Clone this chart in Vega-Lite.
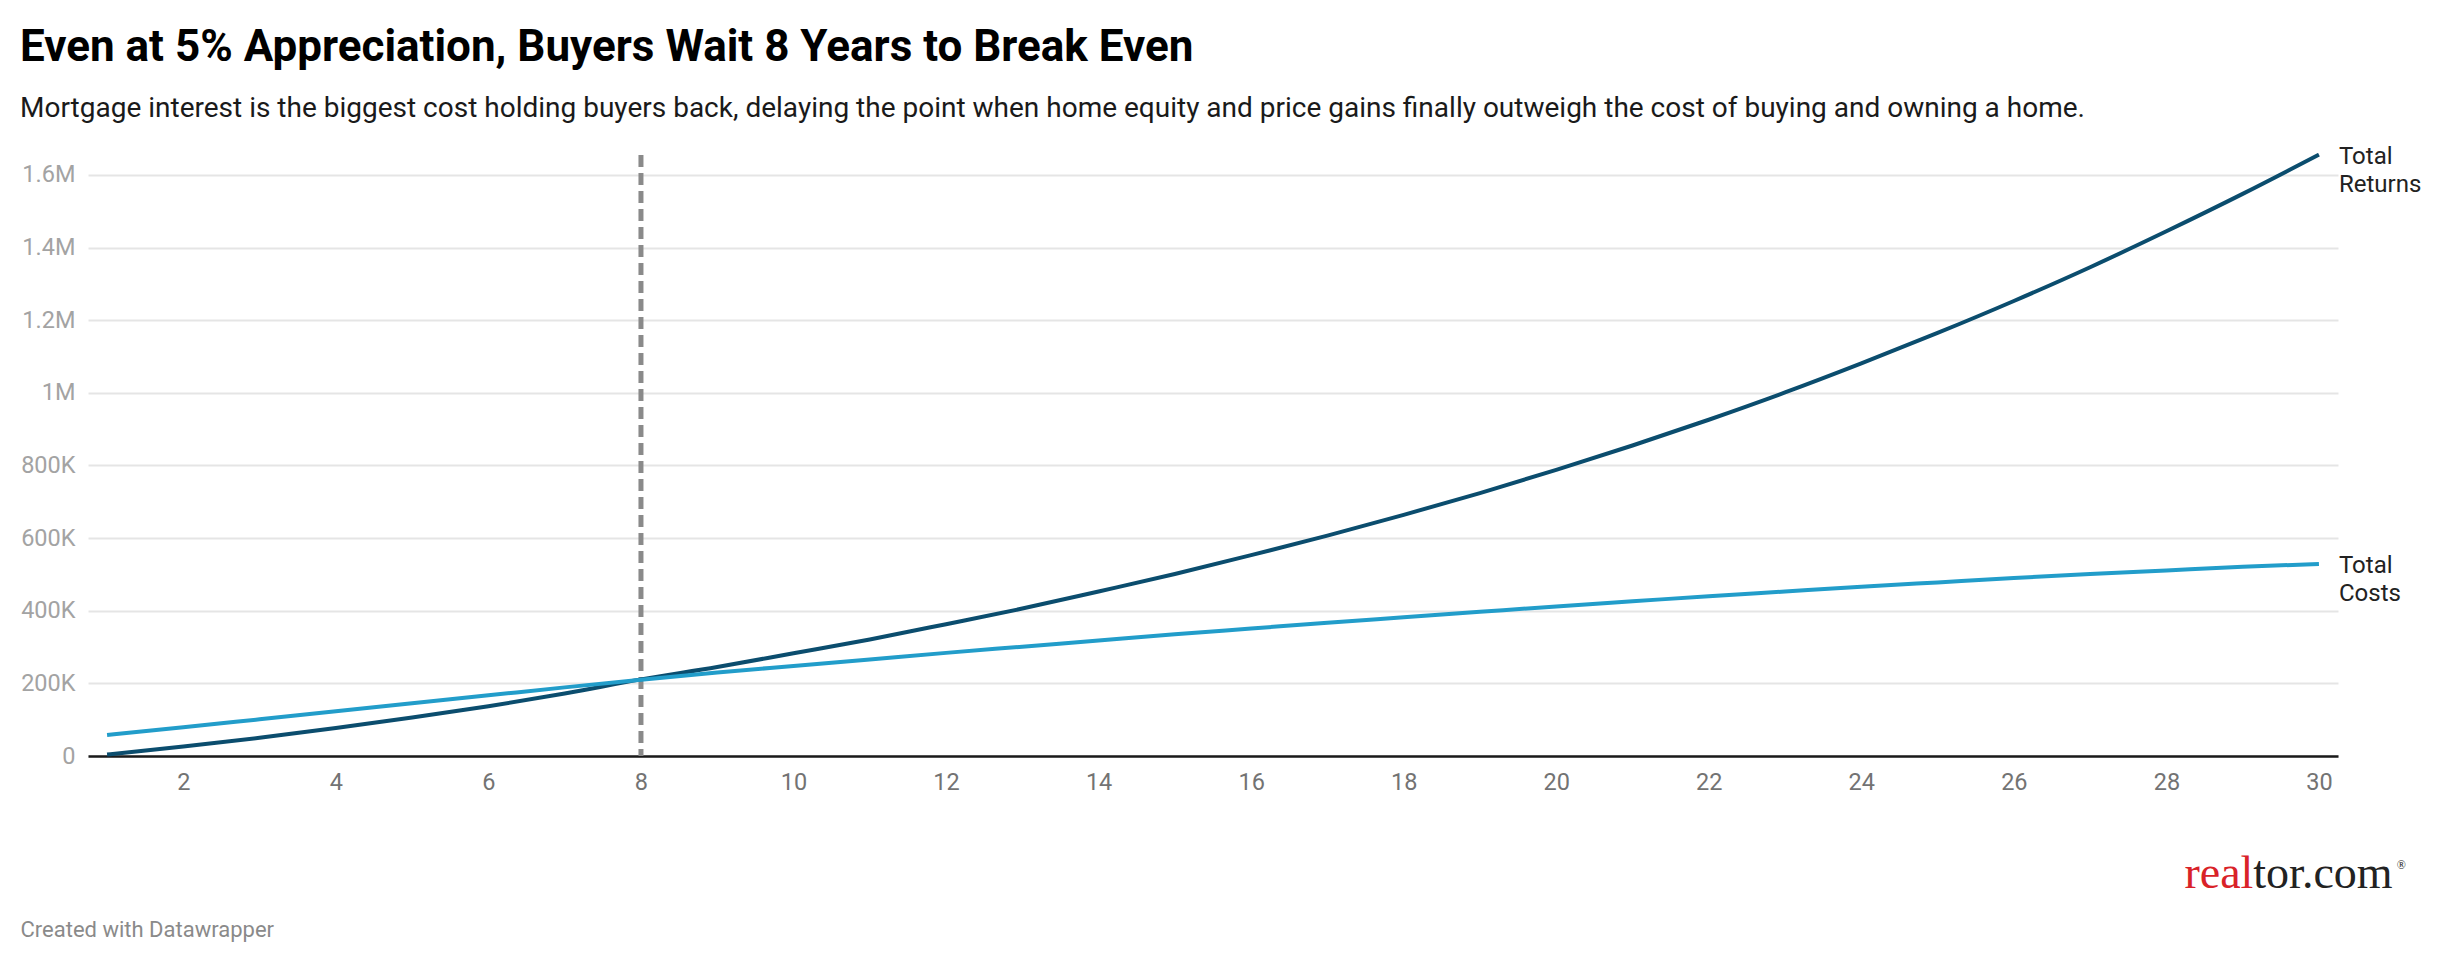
{
  "$schema": "https://vega.github.io/schema/vega-lite/v6.json",
  "width": 2250,
  "height": 601,
  "autosize": {"type": "none"},
  "padding": {"left": 88, "top": 155, "right": 102, "bottom": 206},
  "background": "white",
  "config": {"view": {"stroke": null}, "font": "Roboto"},
  "title": {
    "text": "Even at 5% Appreciation, Buyers Wait 8 Years to Break Even",
    "subtitle": "Mortgage interest is the biggest cost holding buyers back, delaying the point when home equity and price gains finally outweigh the cost of buying and owning a home.",
    "anchor": "start",
    "frame": "group",
    "dx": -68,
    "font": "Roboto",
    "fontSize": 44,
    "fontWeight": "bold",
    "color": "#000000",
    "subtitleFont": "Roboto",
    "subtitleFontSize": 28,
    "subtitleColor": "#1a1a1a",
    "subtitlePadding": 25,
    "offset": 22
  },
  "data": {
    "values": [
      {"year": 1, "series": "Total Returns", "value": 4000},
      {"year": 2, "series": "Total Returns", "value": 26000},
      {"year": 3, "series": "Total Returns", "value": 50000},
      {"year": 4, "series": "Total Returns", "value": 77000},
      {"year": 5, "series": "Total Returns", "value": 106000},
      {"year": 6, "series": "Total Returns", "value": 137000},
      {"year": 7, "series": "Total Returns", "value": 172000},
      {"year": 8, "series": "Total Returns", "value": 211000},
      {"year": 9, "series": "Total Returns", "value": 245000},
      {"year": 10, "series": "Total Returns", "value": 283000},
      {"year": 11, "series": "Total Returns", "value": 321000},
      {"year": 12, "series": "Total Returns", "value": 363000},
      {"year": 13, "series": "Total Returns", "value": 406000},
      {"year": 14, "series": "Total Returns", "value": 453000},
      {"year": 15, "series": "Total Returns", "value": 501000},
      {"year": 16, "series": "Total Returns", "value": 553000},
      {"year": 17, "series": "Total Returns", "value": 607000},
      {"year": 18, "series": "Total Returns", "value": 664000},
      {"year": 19, "series": "Total Returns", "value": 724000},
      {"year": 20, "series": "Total Returns", "value": 788000},
      {"year": 21, "series": "Total Returns", "value": 855000},
      {"year": 22, "series": "Total Returns", "value": 926000},
      {"year": 23, "series": "Total Returns", "value": 1001000},
      {"year": 24, "series": "Total Returns", "value": 1081000},
      {"year": 25, "series": "Total Returns", "value": 1165000},
      {"year": 26, "series": "Total Returns", "value": 1253000},
      {"year": 27, "series": "Total Returns", "value": 1346000},
      {"year": 28, "series": "Total Returns", "value": 1445000},
      {"year": 29, "series": "Total Returns", "value": 1548000},
      {"year": 30, "series": "Total Returns", "value": 1656000},
      {"year": 1, "series": "Total Costs", "value": 58000},
      {"year": 2, "series": "Total Costs", "value": 79000},
      {"year": 3, "series": "Total Costs", "value": 101000},
      {"year": 4, "series": "Total Costs", "value": 123000},
      {"year": 5, "series": "Total Costs", "value": 145000},
      {"year": 6, "series": "Total Costs", "value": 167000},
      {"year": 7, "series": "Total Costs", "value": 189000},
      {"year": 8, "series": "Total Costs", "value": 210000},
      {"year": 9, "series": "Total Costs", "value": 230000},
      {"year": 10, "series": "Total Costs", "value": 248000},
      {"year": 11, "series": "Total Costs", "value": 266000},
      {"year": 12, "series": "Total Costs", "value": 284000},
      {"year": 13, "series": "Total Costs", "value": 301000},
      {"year": 14, "series": "Total Costs", "value": 318000},
      {"year": 15, "series": "Total Costs", "value": 335000},
      {"year": 16, "series": "Total Costs", "value": 351000},
      {"year": 17, "series": "Total Costs", "value": 367000},
      {"year": 18, "series": "Total Costs", "value": 382000},
      {"year": 19, "series": "Total Costs", "value": 397000},
      {"year": 20, "series": "Total Costs", "value": 412000},
      {"year": 21, "series": "Total Costs", "value": 426000},
      {"year": 22, "series": "Total Costs", "value": 440000},
      {"year": 23, "series": "Total Costs", "value": 453000},
      {"year": 24, "series": "Total Costs", "value": 466000},
      {"year": 25, "series": "Total Costs", "value": 478000},
      {"year": 26, "series": "Total Costs", "value": 490000},
      {"year": 27, "series": "Total Costs", "value": 501000},
      {"year": 28, "series": "Total Costs", "value": 511000},
      {"year": 29, "series": "Total Costs", "value": 521000},
      {"year": 30, "series": "Total Costs", "value": 529000}
    ]
  },
  "layer": [
    {
      "data": {"values": [{"year": 8}]},
      "mark": {"type": "rule", "color": "#8a8a8a", "strokeWidth": 5, "strokeDash": [12, 6]},
      "encoding": {
        "x": {"field": "year", "type": "quantitative"}
      }
    },
    {
      "mark": {"type": "line", "strokeWidth": 4, "interpolate": "monotone"},
      "encoding": {
        "x": {
          "field": "year",
          "type": "quantitative",
          "scale": {"domain": [0.75, 30.25], "nice": false, "zero": false},
          "axis": {
            "values": [2, 4, 6, 8, 10, 12, 14, 16, 18, 20, 22, 24, 26, 28, 30],
            "format": "d",
            "grid": false,
            "ticks": false,
            "domain": true,
            "domainColor": "#1a1a1a",
            "domainWidth": 2.5,
            "labelFont": "Roboto",
            "labelFontSize": 23.5,
            "labelColor": "#737373",
            "labelPadding": 14,
            "title": "Created with Datawrapper",
            "titleFont": "Roboto",
            "titleFontSize": 22,
            "titleFontWeight": "normal",
            "titleColor": "#8a8a8a",
            "titleAnchor": "start",
            "titleAlign": "left",
            "titleBaseline": "alphabetic",
            "titleX": -68,
            "titleY": 180
          }
        },
        "y": {
          "field": "value",
          "type": "quantitative",
          "scale": {"domain": [0, 1655000], "nice": false},
          "axis": {
            "values": [0, 200000, 400000, 600000, 800000, 1000000, 1200000, 1400000, 1600000],
            "labelExpr": "datum.value == 0 ? '0' : (datum.value >= 1000000 ? format(datum.value / 1000000, '.1~f') + 'M' : format(datum.value / 1000, 'd') + 'K')",
            "domain": false,
            "ticks": false,
            "grid": true,
            "gridColor": "#e5e5e5",
            "gridWidth": 2,
            "labelFont": "Roboto",
            "labelFontSize": 23.5,
            "labelColor": "#a3a3a3",
            "labelPadding": 13,
            "title": null
          }
        },
        "color": {
          "field": "series",
          "type": "nominal",
          "scale": {"domain": ["Total Returns", "Total Costs"], "range": ["#0b4d6e", "#229dca"]},
          "legend": null
        }
      }
    },
    {
      "transform": [{"filter": "datum.year == 30"}],
      "mark": {"type": "text", "align": "left", "baseline": "alphabetic", "dx": 20, "dy": 9, "lineBreak": " ", "lineHeight": 28, "font": "Roboto", "fontSize": 24, "color": "#222222"},
      "encoding": {
        "x": {"field": "year", "type": "quantitative"},
        "y": {"field": "value", "type": "quantitative"},
        "text": {"field": "series"}
      }
    },
    {
      "data": {"values": [{"t": "real"}]},
      "mark": {"type": "text", "align": "right", "baseline": "alphabetic", "font": "Liberation Serif", "fontSize": 46, "color": "#d92228"},
      "encoding": {
        "x": {"datum": 29.14},
        "y": {"datum": -363000},
        "text": {"field": "t"}
      }
    },
    {
      "data": {"values": [{"t": "tor.com"}]},
      "mark": {"type": "text", "align": "left", "baseline": "alphabetic", "font": "Liberation Serif", "fontSize": 46, "color": "#222222"},
      "encoding": {
        "x": {"datum": 29.14},
        "y": {"datum": -363000},
        "text": {"field": "t"}
      }
    },
    {
      "data": {"values": [{"t": "®"}]},
      "mark": {"type": "text", "align": "left", "baseline": "top", "font": "Liberation Serif", "fontSize": 12, "color": "#222222"},
      "encoding": {
        "x": {"datum": 31.02},
        "y": {"datum": -286000},
        "text": {"field": "t"}
      }
    }
  ]
}
